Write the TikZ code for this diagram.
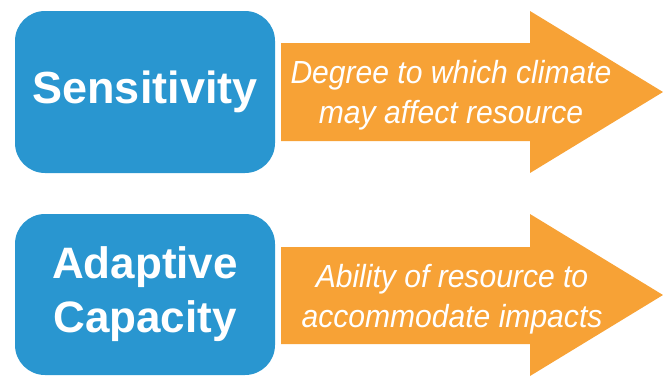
\documentclass[tikz,border=0pt]{standalone}
\usepackage{fontspec}
\setmainfont{Liberation Sans}
\newfontfamily\notefont[FakeStretch=0.94]{Liberation Sans}

\definecolor{boxblue}{HTML}{2996D0}
\definecolor{arroworange}{HTML}{F7A236}
\tikzstyle{factor}=[rounded corners=30pt, fill=boxblue, minimum width=260pt, text=white, align=center, inner sep=0]
\tikzstyle{note}=[text=white, align=center, inner sep=0, font=\notefont\itshape\fontsize{32}{40}\selectfont]
\tikzstyle{bigarrow}=[fill=arroworange]

\begin{document}
\begin{tikzpicture}[x=1pt, y=-1pt]

\useasboundingbox (0, 0) rectangle (663, 376);

% arrows
\fill [bigarrow] (281, 43) -- (530, 43) -- (530, 11) -- (663, 92)
        -- (530, 173) -- (530, 141) -- (281, 141) -- cycle;
\fill [bigarrow] (281, 247) -- (530, 247) -- (530, 214) -- (663, 295)
        -- (530, 376) -- (530, 344) -- (281, 344) -- cycle;

% boxes
\node [factor, minimum height=162pt, font=\bfseries\fontsize{45}{54}\selectfont]
        (sensitivity) at (145, 92) {Sensitivity};
\node [factor, minimum height=161pt, font=\bfseries\fontsize{44}{54}\selectfont]
        (capacity) at (145, 294.5) {Adaptive\\Capacity};

% arrow texts
\node [note] (sensnote) at (451, 95) {Degree to which climate\\may affect resource};
\node [note] (capnote) at (452, 299.5) {Ability of resource to\\accommodate impacts};

\end{tikzpicture}
\end{document}
